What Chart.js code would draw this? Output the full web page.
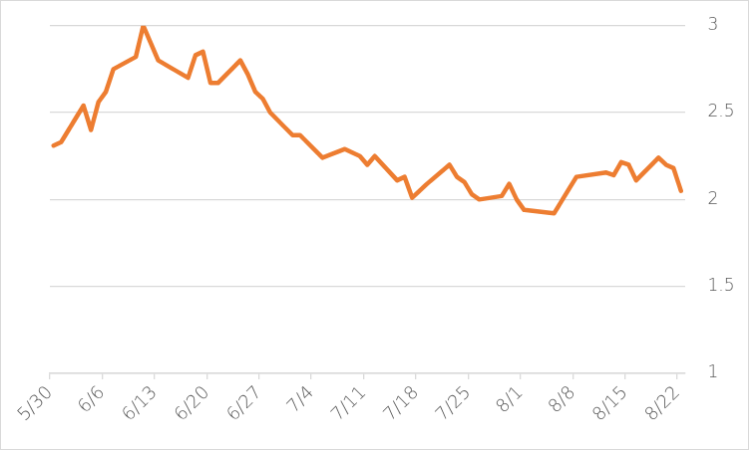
<!DOCTYPE html>
<html>
<head>
<meta charset="utf-8">
<script src="https://cdn.jsdelivr.net/npm/chart.js@4/dist/chart.umd.min.js"></script>
<style>
  body { margin: 0; background: #fff; }
  #chart { display: block; border: 1px solid #d9d9d9; }
</style>
</head>
<body>
<canvas id="chart" width="749" height="450"></canvas>
<script>
// Trading days
const dates = ['5/30','5/31','6/3','6/4','6/5','6/6','6/7','6/10','6/11','6/13',
    '6/17','6/18','6/19','6/20','6/21','6/24','6/25','6/26','6/27','6/28',
    '7/1','7/2','7/5','7/8','7/9','7/10','7/11','7/12','7/15','7/16','7/17','7/19',
    '7/22','7/23','7/24','7/25','7/26','7/29','7/30','7/31','8/1','8/5','8/8',
    '8/12','8/13','8/14','8/15','8/16','8/19','8/20','8/21','8/22'];
const values = [2.31, 2.33, 2.54, 2.40, 2.56, 2.62, 2.75, 2.82, 3.00, 2.80,
    2.70, 2.83, 2.85, 2.67, 2.67, 2.80, 2.72, 2.62, 2.58, 2.50,
    2.37, 2.37, 2.24, 2.29, 2.27, 2.25, 2.20, 2.25, 2.11, 2.13, 2.01, 2.09,
    2.20, 2.13, 2.10, 2.03, 2.00, 2.02, 2.09, 2.00, 1.94, 1.92, 2.13,
    2.155, 2.14, 2.215, 2.20, 2.11, 2.24, 2.20, 2.18, 2.05];

// Axis labels
const xTickLabels = ['5/30','6/6','6/13','6/20','6/27','7/4','7/11','7/18','7/25','8/1','8/8','8/15','8/22'];
const yTicks = [1, 1.5, 2, 2.5, 3];

// Function to turn "m/d" into days since 5/30
function dayOffset(s) {
    const [m, d] = s.split('/').map(Number);
    return (Date.UTC(2019, m - 1, d) - Date.UTC(2019, 4, 30)) / 86400000;
}

// Function to drop the automatic label padding so the plot box stays where we put it
function clearPadding(scale) {
    scale.paddingTop = 0;
    scale.paddingBottom = 0;
    scale.paddingLeft = 0;
    scale.paddingRight = 0;
}

const points = dates.map((s, i) => ({ x: dayOffset(s), y: values[i] }));
const textColor = '#595959';
const gridColor = '#d9d9d9';

const ctx = document.getElementById('chart').getContext('2d');
new Chart(ctx, {
    type: 'line',
    data: {
        datasets: [{
            data: points,
            borderColor: '#ED7D31',
            borderWidth: 4.5,
            borderJoinStyle: 'round',
            borderCapStyle: 'round',
            pointRadius: 0,
            tension: 0,
            fill: false
        }]
    },
    options: {
        responsive: false,
        animation: false,
        events: [],
        layout: { padding: { left: 49, top: 24.7, right: 0, bottom: 0 } },
        plugins: { legend: { display: false }, tooltip: { enabled: false } },
        scales: {
            x: {
                type: 'linear',
                min: -0.5,
                max: 84.5,
                afterBuildTicks: (scale) => {
                    scale.ticks = xTickLabels.map((l, i) => ({ value: i * 7 - 0.5 }));
                },
                afterFit: (scale) => { scale.height = 76; clearPadding(scale); },
                grid: { drawOnChartArea: false, drawTicks: true, tickLength: 6, color: gridColor, lineWidth: 1.3 },
                border: { display: true, color: gridColor, width: 1.5 },
                ticks: {
                    autoSkip: false,
                    minRotation: 45,
                    maxRotation: 45,
                    padding: 3,
                    color: textColor,
                    font: { family: '"DejaVu Sans", sans-serif', size: 18, weight: 300 },
                    callback: (v, i) => xTickLabels[i]
                }
            },
            y: {
                position: 'right',
                min: 1,
                max: 3,
                afterBuildTicks: (scale) => {
                    scale.ticks = yTicks.map(v => ({ value: v }));
                },
                afterFit: (scale) => { scale.width = 63.5; clearPadding(scale); },
                grid: { drawTicks: false, color: gridColor, lineWidth: 1.3 },
                border: { display: false },
                ticks: {
                    padding: 23,
                    color: textColor,
                    font: { family: '"DejaVu Sans", sans-serif', size: 17, weight: 300 },
                    callback: (v) => String(v)
                }
            }
        }
    }
});
</script>
</body>
</html>
